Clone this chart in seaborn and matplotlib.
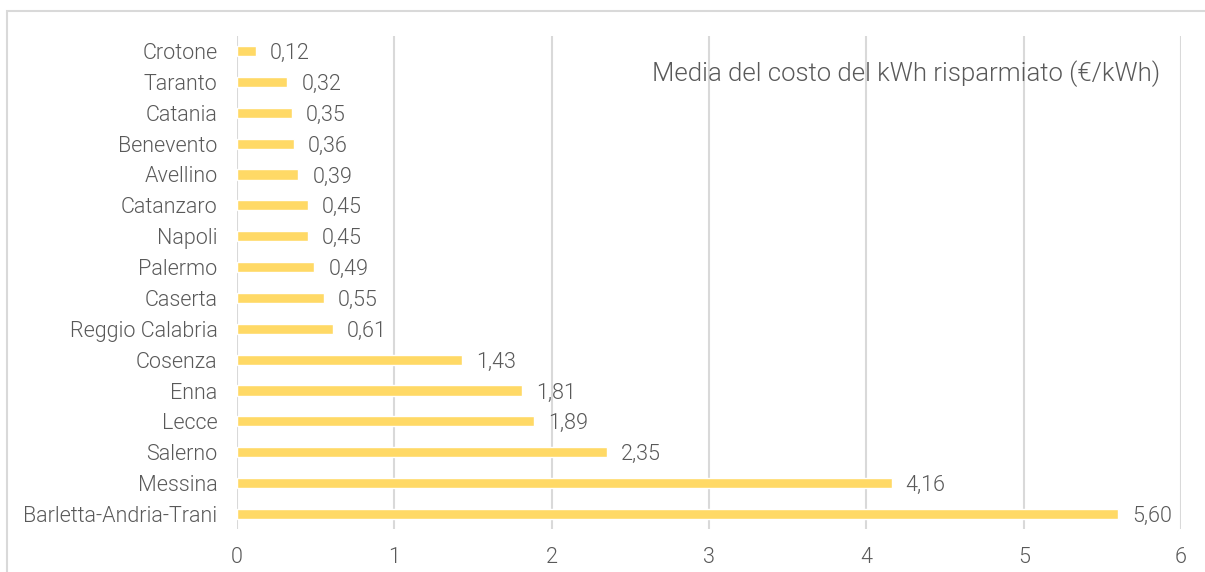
import matplotlib
matplotlib.use("Agg")
import matplotlib.pyplot as plt
import seaborn as sns
import pandas as pd
from matplotlib.patches import Rectangle

categories = ["Crotone", "Taranto", "Catania", "Benevento", "Avellino", "Catanzaro",
              "Napoli", "Palermo", "Caserta", "Reggio Calabria", "Cosenza", "Enna",
              "Lecce", "Salerno", "Messina", "Barletta-Andria-Trani"]
values = [0.12, 0.32, 0.35, 0.36, 0.39, 0.45, 0.45, 0.49, 0.55, 0.61,
          1.43, 1.81, 1.89, 2.35, 4.16, 5.60]
title = "Media del costo del kWh risparmiato (€/kWh)"
xticks = [0, 1, 2, 3, 4, 5, 6]

sns.set_theme(style="white")
plt.rcParams['font.family'] = ['Roboto', 'DejaVu Sans']
W = 300

df = pd.DataFrame({"cat": categories, "val": values})
txt = "#595959"
grid = "#d9d9d9"

fig = plt.figure(figsize=(12.05, 5.72), dpi=100)
ax = fig.add_axes([237/1205, 1 - 529.4/572, (1181 - 237)/1205, (529.4 - 35.6)/572])
sns.barplot(data=df, x="val", y="cat", color="#FFD966", width=0.33, ax=ax,
            saturation=1, order=categories)
ax.set_xlim(0, 6)
ax.set_ylim(len(categories) - 0.5, -0.5)
ax.set_xticks(xticks)
ax.set_xticklabels([str(t) for t in xticks], fontsize=15.5, color=txt, fontweight=W)
ax.set_yticklabels(categories, fontsize=15.5, color=txt, fontweight=W)
ax.tick_params(axis='both', length=0)
ax.tick_params(axis='x', pad=13)
ax.tick_params(axis='y', pad=14)
for s in ax.spines.values():
    s.set_visible(False)
for t in xticks:
    ax.axvline(t, color=grid, lw=1.5, zorder=0)
ax.set_xlabel("")
ax.set_ylabel("")
for i, v in enumerate(values):
    ax.text(v + 0.09, i, f"{v:.2f}".replace(".", ","), va="center_baseline", ha="left",
            fontsize=15.5, color=txt, fontweight=W)
fig.text(1160/1205, 1 - 71/572, title, ha="right", va="center_baseline", fontsize=18.5,
         color=txt, fontweight=W)
fig.patches.append(Rectangle((7/1205, -0.1), 1.2, 1 - 11/572 + 0.1,
                             transform=fig.transFigure, fill=False,
                             edgecolor=grid, lw=1.5, figure=fig))
fig.savefig("out.png", dpi=100)
